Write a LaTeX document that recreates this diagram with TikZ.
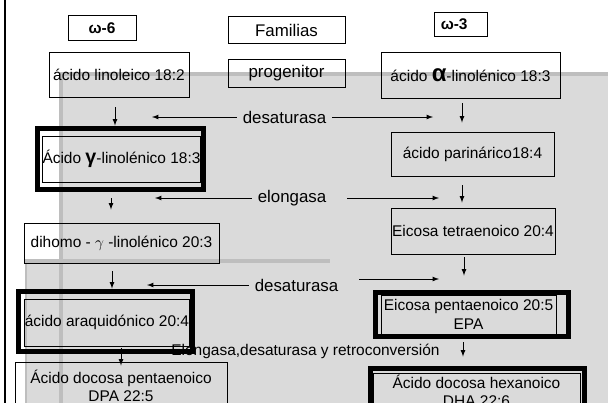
\documentclass[tikz,border=0pt]{standalone}
\usepackage{fontspec}
\setmainfont{Liberation Sans}
\usetikzlibrary{positioning,calc}
\definecolor{bgray}{RGB}{218,218,218}
\definecolor{bandgray}{RGB}{190,190,190}

\begin{document}
\begin{tikzpicture}[x=0.025cm, y=-0.025cm, >=latex, line width=0.6pt,
    box/.style={draw, rectangle, inner sep=0pt, align=center, font=\fontsize{11}{13}\selectfont},
    enzyme/.style={inner sep=4pt, font=\fontsize{12}{14}\selectfont},
    hilite/.style={draw, line width=3.6pt}]
    \useasboundingbox (0,0) rectangle (608,403);
    \clip (0,0) rectangle (608,403);

    % Background
    \fill[bgray] (60,73) rectangle (608,403);
    \fill[bgray] (25,262) rectangle (608,403);
    \draw[bandgray, line width=2.8pt] (60,74) -- (608,74);
    \draw[bandgray, line width=2.8pt] (61,73) -- (61,403);
    \draw[bandgray, line width=2.8pt] (25,261) -- (330,261);
    \draw[bandgray, line width=1.5pt] (26,262) -- (26,403);
    \draw[line width=1.8pt] (5,0) -- (5,403);

    % Define the boxes
    \node[box, minimum width=1.7cm, minimum height=0.625cm, font=\fontsize{11}{13}\selectfont\bfseries] (omega6) at (102,28) {ω-6};
    \node[box, minimum width=2.925cm, minimum height=0.675cm, font=\fontsize{12}{14}\selectfont] (familias) at (286.5,30) {Familias};
    \node[box, minimum width=1.325cm, minimum height=0.6cm, font=\fontsize{11}{13}\selectfont\bfseries] (omega3) at (460.5,24) {ω-3\hspace{9pt}};
    \node[box, minimum width=3.5cm, minimum height=1.125cm] (linoleico) at (119,74.5) {ácido linoleico 18:2};
    \node[box, minimum width=2.925cm, minimum height=0.7cm, font=\fontsize{12}{14}\selectfont] (progenitor) at (286.5,73) {progenitor};
    \node[box, minimum width=4.475cm, minimum height=1.15cm] (alfa) at (470.5,75) {ácido {\fontsize{17}{17}\selectfont\bfseries α}-linolénico 18:3};
    \node[box, minimum width=3.875cm, minimum height=1.15cm] (gamma) at (121.5,159) {Ácido {\fontsize{14}{14}\selectfont\bfseries γ}-linolénico 18:3};
    \node[box, minimum width=4.075cm, minimum height=1.1cm] (parinarico) at (472.5,154) {ácido parinárico18:4};
    \node[box, minimum width=4.875cm, minimum height=1cm] (dihomo) at (121.5,243) {dihomo - $\gamma$ -linolénico 20:3};
    \node[box, minimum width=4.1cm, minimum height=1.15cm] (tetra) at (473,231) {Eicosa tetraenoico 20:4};
    \node[box, minimum width=4.1cm, minimum height=1.175cm] (araquidonico) at (107,322.5) {ácido araquidónico 20:4};
    \node[box, minimum width=4.375cm, minimum height=0.975cm] (epa) at (468.5,314.5) {Eicosa pentaenoico 20:5\\EPA};
    \node[box, minimum width=5.3cm, minimum height=1.2cm] (dpa) at (121,386) {Ácido docosa pentaenoico\\DPA 22:5};
    \node[box, minimum width=5.175cm, minimum height=0.9cm] (dha) at (476.5,391) {Ácido docosa hexanoico\\DHA 22:6};

    % Enzymes
    \node[enzyme] (desat1) at (284.5,117) {desaturasa};
    \node[enzyme] (elong1) at (292,198) {elongasa};
    \node[enzyme] (desat2) at (296.5,285) {desaturasa};
    \node[enzyme, font=\fontsize{11}{13}\selectfont] (elong2) at (305.5,351) {Elongasa,desaturasa y retroconversión};
    \coordinate (desat1l) at (152,117);
    \coordinate (desat1r) at (433,117);
    \coordinate (elong1l) at (155,198);
    \coordinate (elong1r) at (439,198);
    \coordinate (desat2l) at (147,285);
    \coordinate (desat2r) at (439,279);

    % Thick frames
    \draw[hilite] ($(gamma.north west)+(-4.5,-7)$) rectangle ($(gamma.south east)+(2.5,7)$);
    \draw[hilite] ($(araquidonico.north west)+(-5.5,-7.5)$) rectangle ($(araquidonico.south east)+(2.5,5.5)$);
    \draw[hilite] ($(epa.north west)+(-5.5,-2.5)$) rectangle ($(epa.south east)+(12.5,2.5)$);
    \draw[hilite] ($(dha.north west)+(-2.5,-4.5)$) rectangle ($(dha.south east)+(4.5,5)$);

    % Draw arrows between the boxes
    \draw[->] ($(linoleico.south)+(-4,10)$) -- ($(gamma.north)+(-6.5,-10)$);
    \draw[->] ($(alfa.south)+(-8.5,5)$) -- ($(parinarico.north)+(-10.5,-9)$);
    \draw[->] ($(gamma.south)+(-10.5,16)$) -- ($(dihomo.north)+(-10.5,-13)$);
    \draw[->] ($(parinarico.south)+(-10.5,9)$) -- ($(tetra.north)+(-11,-5)$);
    \draw[->] ($(dihomo.south)+(-9.5,8)$) -- ($(araquidonico.north)+(5,-10)$);
    \draw[->] ($(tetra.south)+(-9,3)$) -- ($(epa.north)+(-4.5,-19)$);
    \draw[->] ($(araquidonico.south)+(14,2)$) -- ($(dpa.north)+(0,4)$);
    \draw[->] ($(epa.south)+(-5.5,8)$) -- ($(dha.north)+(-13.5,-16)$);

    % Enzyme arrows
    \draw[->] (desat1) -- (desat1l);
    \draw[->] (desat1) -- (desat1r);
    \draw[->] (elong1) -- (elong1l);
    \draw[->] ($(elong1.east)+(15,0)$) -- (elong1r);
    \draw[->] (desat2) -- (desat2l);
    \draw[->] ($(desat2.east |- desat2r)+(15,0)$) -- (desat2r);
\end{tikzpicture}
\end{document}
